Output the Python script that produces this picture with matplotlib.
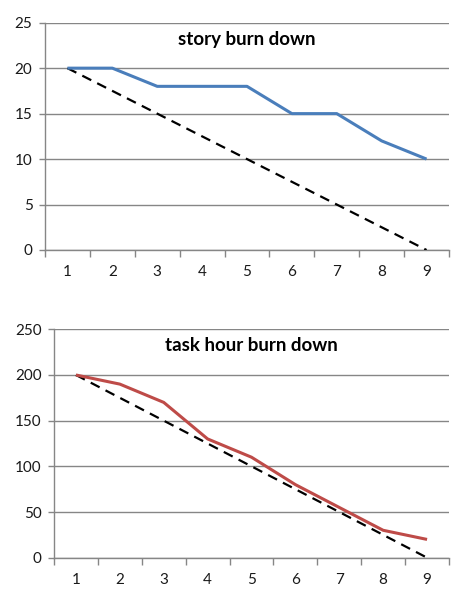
import matplotlib
matplotlib.use("Agg")
import matplotlib.pyplot as plt
from matplotlib.ticker import FixedLocator

plt.rcParams['font.family'] = ['Lato', 'DejaVu Sans']

days = [1, 2, 3, 4, 5, 6, 7, 8, 9]
story_actual = [20, 20, 18, 18, 18, 15, 15, 12, 10]
story_ideal = [20, 17.5, 15, 12.5, 10, 7.5, 5, 2.5, 0]
task_actual = [200, 190, 170, 130, 110, 80, 55, 30, 20]
task_ideal = [200, 175, 150, 125, 100, 75, 50, 25, 0]

story_yticks = [0, 5, 10, 15, 20, 25]
task_yticks = [0, 50, 100, 150, 200, 250]

W, H = 473, 602
fig = plt.figure(figsize=(W / 100, H / 100), dpi=100)

grid_c = '#868686'


def make_ax(rect, actual, ideal, yticks, color, title):
    ax = fig.add_axes(rect)
    ax.set_xlim(0.5, 9.5)
    ax.set_ylim(yticks[0], yticks[-1])
    ax.set_yticks(yticks)
    ax.yaxis.grid(True, color=grid_c, linewidth=1.0)
    ax.set_axisbelow(True)
    for s in ['top', 'right']:
        ax.spines[s].set_visible(False)
    for s in ['left', 'bottom']:
        ax.spines[s].set_color(grid_c)
        ax.spines[s].set_linewidth(1.0)
    ax.tick_params(axis='y', length=4, color=grid_c, width=1.0, pad=5,
                   labelsize=11, labelcolor='#1a1a1a')
    ax.set_xticks(days)
    ax.set_xticklabels([str(d) for d in days])
    ax.xaxis.set_minor_locator(FixedLocator([d - 0.5 for d in days] + [9.5]))
    ax.tick_params(axis='x', which='major', length=0, pad=11,
                   labelsize=11, labelcolor='#1a1a1a')
    ax.tick_params(axis='x', which='minor', length=5, color=grid_c, width=1.0)
    ax.plot(days, ideal, color='black', linewidth=1.6, linestyle=(0, (4.5, 3)),
            zorder=3)
    ax.plot(days, actual, color=color, linewidth=2.2, zorder=4,
            solid_capstyle='butt', solid_joinstyle='round')
    ax.text(0.5, 0.965, title, transform=ax.transAxes, ha='center', va='top',
            fontsize=13.5, fontweight='bold', color='black')
    ax.patch.set_alpha(0)
    return ax


make_ax([45 / W, 1 - 250 / H, 404 / W, (250 - 22.7) / H],
        story_actual, story_ideal, story_yticks, '#4A7EBB', 'story burn down')
make_ax([54 / W, 1 - 557.7 / H, 395 / W, (557.7 - 329.3) / H],
        task_actual, task_ideal, task_yticks, '#BE4B48', 'task hour burn down')

fig.savefig('out.png', dpi=100, facecolor='white')
